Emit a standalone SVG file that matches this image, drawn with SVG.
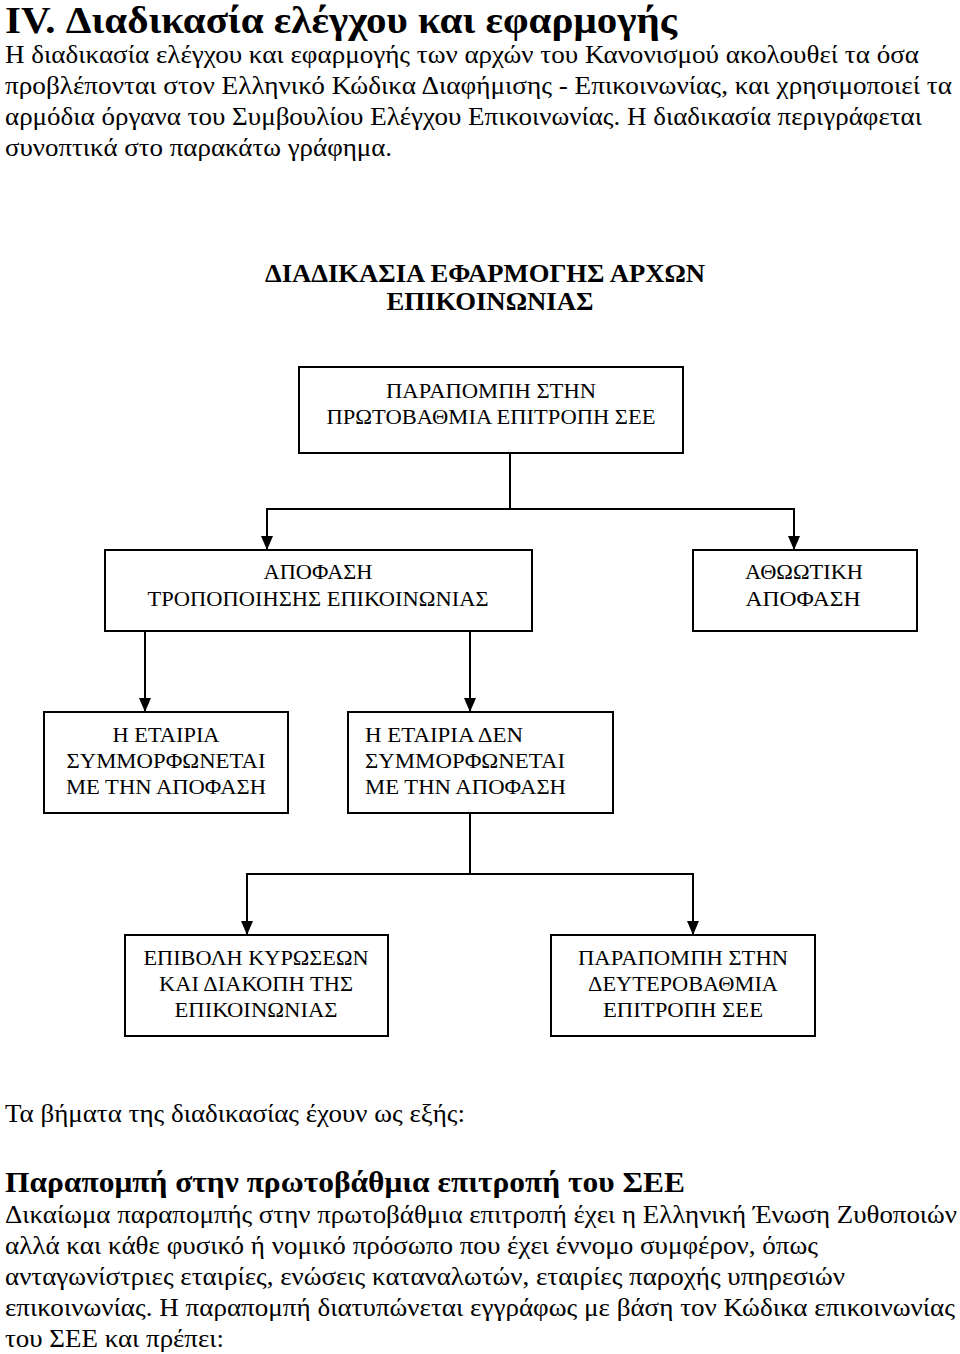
<svg xmlns="http://www.w3.org/2000/svg" width="960" height="1354" viewBox="0 0 960 1354">
<style>
text{font-family:"Liberation Serif","Times New Roman",serif;fill:#000}
.h1{font-size:37px;font-weight:bold}
.p{font-size:26px}
.dt{font-size:26px;font-weight:bold}
.bx{font-size:22px}
.h2{font-size:30px;font-weight:bold}
.box{fill:#fff;stroke:#000;stroke-width:2}
.ln{fill:none;stroke:#000;stroke-width:2}
</style>
<defs>
<marker id="ah" markerUnits="userSpaceOnUse" markerWidth="14" markerHeight="12" viewBox="0 0 14 12" refX="14" refY="6" orient="auto">
<path d="M0,0 L14,6 L0,12 Z" fill="#000"/>
</marker>
</defs>
<rect width="960" height="1354" fill="#fff"/>
<g id="intro">
<text class="h1" x="5" y="33" textLength="672" lengthAdjust="spacingAndGlyphs">IV. Διαδικασία ελέγχου και εφαρμογής</text>
<text class="p" x="5" y="63" textLength="914" lengthAdjust="spacingAndGlyphs">Η διαδικασία ελέγχου και εφαρμογής των αρχών του Κανονισμού ακολουθεί τα όσα</text>
<text class="p" x="5" y="94" textLength="947" lengthAdjust="spacingAndGlyphs">προβλέπονται στον Ελληνικό Κώδικα Διαφήμισης - Επικοινωνίας, και χρησιμοποιεί τα</text>
<text class="p" x="5" y="125" textLength="917" lengthAdjust="spacingAndGlyphs">αρμόδια όργανα του Συμβουλίου Ελέγχου Επικοινωνίας. Η διαδικασία περιγράφεται</text>
<text class="p" x="5" y="156" textLength="387" lengthAdjust="spacingAndGlyphs">συνοπτικά στο παρακάτω γράφημα.</text>
</g>
<g id="diagram-title">
<text class="dt" x="485" y="282" text-anchor="middle" textLength="440" lengthAdjust="spacingAndGlyphs">ΔΙΑΔΙΚΑΣΙΑ ΕΦΑΡΜΟΓΗΣ ΑΡΧΩΝ</text>
<text class="dt" x="490" y="310" text-anchor="middle" textLength="207" lengthAdjust="spacingAndGlyphs">ΕΠΙΚΟΙΝΩΝΙΑΣ</text>
</g>
<g id="connectors">
<path class="ln" d="M510,453 V509 M266,509 H795"/>
<path class="ln" d="M267,509 V550" marker-end="url(#ah)"/>
<path class="ln" d="M794,509 V550" marker-end="url(#ah)"/>
<path class="ln" d="M145,631 V712" marker-end="url(#ah)"/>
<path class="ln" d="M470,631 V712" marker-end="url(#ah)"/>
<path class="ln" d="M470,813 V874 M246,874 H694"/>
<path class="ln" d="M247,874 V935" marker-end="url(#ah)"/>
<path class="ln" d="M693,874 V935" marker-end="url(#ah)"/>
</g>
<g id="n1">
<rect class="box" x="299" y="367" width="384" height="86"/>
<text class="bx" x="491" y="398" text-anchor="middle" textLength="210" lengthAdjust="spacingAndGlyphs">ΠΑΡΑΠΟΜΠΗ ΣΤΗΝ</text>
<text class="bx" x="491" y="424" text-anchor="middle" textLength="329" lengthAdjust="spacingAndGlyphs">ΠΡΩΤΟΒΑΘΜΙΑ ΕΠΙΤΡΟΠΗ ΣΕΕ</text>
</g>
<g id="n2">
<rect class="box" x="105" y="550" width="427" height="81"/>
<text class="bx" x="318" y="579" text-anchor="middle" textLength="109" lengthAdjust="spacingAndGlyphs">ΑΠΟΦΑΣΗ</text>
<text class="bx" x="318" y="606" text-anchor="middle" textLength="341" lengthAdjust="spacingAndGlyphs">ΤΡΟΠΟΠΟΙΗΣΗΣ ΕΠΙΚΟΙΝΩΝΙΑΣ</text>
</g>
<g id="n3">
<rect class="box" x="693" y="550" width="224" height="81"/>
<text class="bx" x="804" y="579" text-anchor="middle" textLength="118" lengthAdjust="spacingAndGlyphs">ΑΘΩΩΤΙΚΗ</text>
<text class="bx" x="803" y="606" text-anchor="middle" textLength="115" lengthAdjust="spacingAndGlyphs">ΑΠΟΦΑΣΗ</text>
</g>
<g id="n4">
<rect class="box" x="44" y="712" width="244" height="101"/>
<text class="bx" x="166" y="742" text-anchor="middle" textLength="107" lengthAdjust="spacingAndGlyphs">Η ΕΤΑΙΡΙΑ</text>
<text class="bx" x="166" y="768" text-anchor="middle" textLength="199" lengthAdjust="spacingAndGlyphs">ΣΥΜΜΟΡΦΩΝΕΤΑΙ</text>
<text class="bx" x="166" y="794" text-anchor="middle" textLength="200" lengthAdjust="spacingAndGlyphs">ΜΕ ΤΗΝ ΑΠΟΦΑΣΗ</text>
</g>
<g id="n5">
<rect class="box" x="348" y="712" width="265" height="101"/>
<text class="bx" x="365" y="742" textLength="158" lengthAdjust="spacingAndGlyphs">Η ΕΤΑΙΡΙΑ ΔΕΝ</text>
<text class="bx" x="365" y="768" textLength="200" lengthAdjust="spacingAndGlyphs">ΣΥΜΜΟΡΦΩΝΕΤΑΙ</text>
<text class="bx" x="365" y="794" textLength="201" lengthAdjust="spacingAndGlyphs">ΜΕ ΤΗΝ ΑΠΟΦΑΣΗ</text>
</g>
<g id="n6">
<rect class="box" x="125" y="935" width="263" height="101"/>
<text class="bx" x="256" y="965" text-anchor="middle" textLength="225" lengthAdjust="spacingAndGlyphs">ΕΠΙΒΟΛΗ ΚΥΡΩΣΕΩΝ</text>
<text class="bx" x="256" y="991" text-anchor="middle" textLength="194" lengthAdjust="spacingAndGlyphs">ΚΑΙ ΔΙΑΚΟΠΗ ΤΗΣ</text>
<text class="bx" x="256" y="1017" text-anchor="middle" textLength="163" lengthAdjust="spacingAndGlyphs">ΕΠΙΚΟΙΝΩΝΙΑΣ</text>
</g>
<g id="n7">
<rect class="box" x="551" y="935" width="264" height="101"/>
<text class="bx" x="683" y="965" text-anchor="middle" textLength="210" lengthAdjust="spacingAndGlyphs">ΠΑΡΑΠΟΜΠΗ ΣΤΗΝ</text>
<text class="bx" x="683" y="991" text-anchor="middle" textLength="190" lengthAdjust="spacingAndGlyphs">ΔΕΥΤΕΡΟΒΑΘΜΙΑ</text>
<text class="bx" x="683" y="1017" text-anchor="middle" textLength="160" lengthAdjust="spacingAndGlyphs">ΕΠΙΤΡΟΠΗ ΣΕΕ</text>
</g>
<g id="steps">
<text class="p" x="5" y="1122" textLength="460" lengthAdjust="spacingAndGlyphs">Τα βήματα της διαδικασίας έχουν ως εξής:</text>
<text class="h2" x="5" y="1192" textLength="680" lengthAdjust="spacingAndGlyphs">Παραπομπή στην πρωτοβάθμια επιτροπή του ΣΕΕ</text>
<text class="p" x="5" y="1223" textLength="952" lengthAdjust="spacingAndGlyphs">Δικαίωμα παραπομπής στην πρωτοβάθμια επιτροπή έχει η Ελληνική Ένωση Ζυθοποιών</text>
<text class="p" x="5" y="1254" textLength="813" lengthAdjust="spacingAndGlyphs">αλλά και κάθε φυσικό ή νομικό πρόσωπο που έχει έννομο συμφέρον, όπως</text>
<text class="p" x="5" y="1285" textLength="840" lengthAdjust="spacingAndGlyphs">ανταγωνίστριες εταιρίες, ενώσεις καταναλωτών, εταιρίες παροχής υπηρεσιών</text>
<text class="p" x="5" y="1316" textLength="950" lengthAdjust="spacingAndGlyphs">επικοινωνίας. Η παραπομπή διατυπώνεται εγγράφως με βάση τον Κώδικα επικοινωνίας</text>
<text class="p" x="5" y="1347" textLength="219" lengthAdjust="spacingAndGlyphs">του ΣΕΕ και πρέπει:</text>
</g>
</svg>
